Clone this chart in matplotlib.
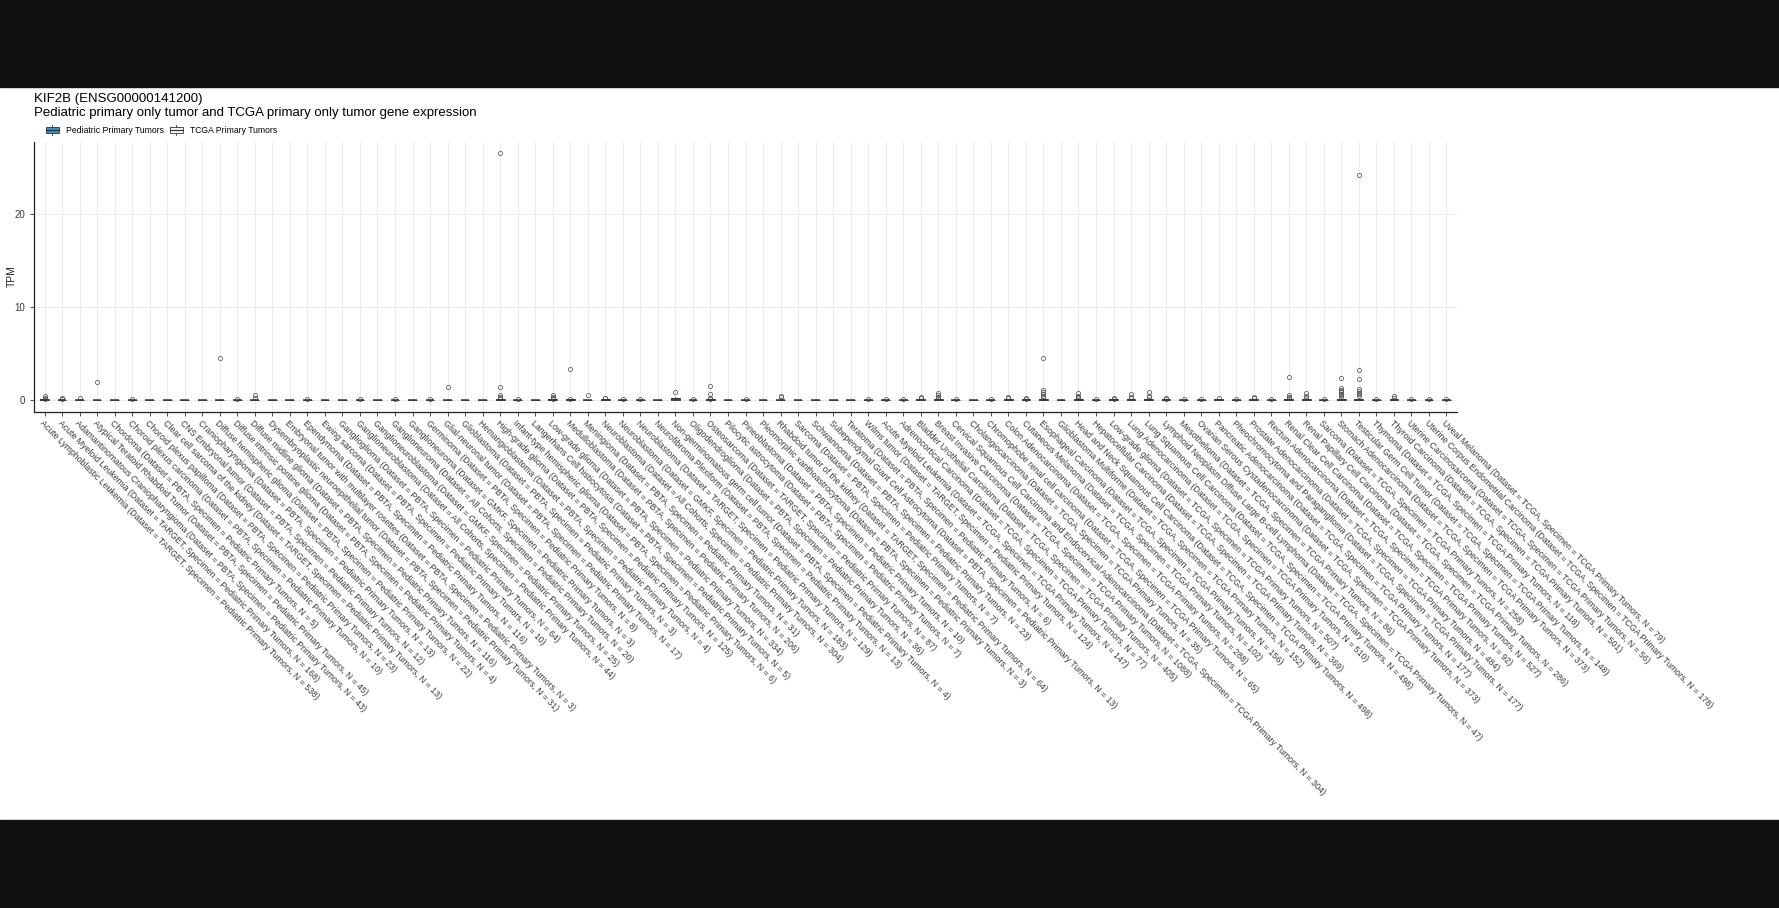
import matplotlib
matplotlib.use("Agg")
import matplotlib.pyplot as plt
from matplotlib.patches import Rectangle, Patch
from matplotlib.lines import Line2D
from matplotlib.legend_handler import HandlerBase

plt.rcParams['font.family'] = ['Liberation Sans', 'DejaVu Sans']

# Pediatric cancer groups (alphabetical), dataset and sample counts
ped_groups = ["Acute Lymphoblastic Leukemia", "Acute Myeloid Leukemia", "Adamantinomatous Craniopharyngioma",
              "Atypical Teratoid Rhabdoid Tumor", "Chordoma", "Choroid plexus carcinoma", "Choroid plexus papilloma",
              "Clear cell sarcoma of the kidney", "CNS Embryonal tumor", "Craniopharyngioma",
              "Diffuse hemispheric glioma", "Diffuse intrinsic pontine glioma", "Diffuse midline glioma",
              "Dysembryoplastic neuroepithelial tumor", "Embryonal tumor with multilayer rosettes", "Ependymoma",
              "Ewing sarcoma", "Ganglioglioma", "Ganglioneuroblastoma", "Ganglioneuroblastoma", "Ganglioneuroma",
              "Ganglioneuroma", "Germinoma", "Glial-neuronal tumor", "Glioblastoma", "Hemangioblastoma",
              "High-grade glioma", "Infant-type hemispheric glioma", "Langerhans Cell histiocytosis",
              "Low-grade glioma", "Medulloblastoma", "Meningioma", "Neuroblastoma", "Neuroblastoma", "Neuroblastoma",
              "Neurofibroma Plexiform", "Non-germinomatous germ cell tumor", "Oligodendroglioma", "Osteosarcoma",
              "Pilocytic astrocytoma", "Pineoblastoma", "Pleomorphic xanthoastrocytoma",
              "Rhabdoid tumor of the kidney", "Sarcoma", "Schwannoma", "Subependymal Giant Cell Astrocytoma",
              "Teratoma", "Wilms tumor"]
ped_datasets = ["TARGET", "TARGET", "PBTA", "PBTA", "PBTA", "PBTA", "PBTA", "TARGET", "PBTA", "PBTA",
                "PBTA", "PBTA", "PBTA", "PBTA", "PBTA", "PBTA", "PBTA", "PBTA", "All Cohorts", "GMKF",
                "All Cohorts", "GMKF", "PBTA", "PBTA", "PBTA", "PBTA", "PBTA", "PBTA", "PBTA", "PBTA",
                "PBTA", "PBTA", "All Cohorts", "GMKF", "TARGET", "PBTA", "PBTA", "PBTA", "TARGET", "PBTA",
                "PBTA", "PBTA", "TARGET", "PBTA", "PBTA", "PBTA", "PBTA", "TARGET"]
ped_n = [538, 168, 43, 45, 5, 10, 23, 13, 12, 13, 22, 4, 116, 31, 3, 116, 10, 64, 44, 25,
         20, 3, 8, 17, 3, 4, 125, 6, 5, 334, 206, 31, 304, 183, 129, 13, 4, 36, 87, 7,
         10, 3, 64, 7, 23, 13, 6, 124]

tcga_groups = ["Acute Myeloid Leukemia", "Adrenocortical Carcinoma", "Bladder Urothelial Carcinoma",
               "Breast Invasive Carcinoma", "Cervical Squamous Cell Carcinoma and Endocervical Adenocarcinoma",
               "Cholangiocarcinoma", "Chromophobe renal cell carcinoma", "Colon Adenocarcinoma",
               "Cutaneous Melanoma", "Esophageal Carcinoma", "Glioblastoma Multiforme",
               "Head and Neck Squamous Cell Carcinoma", "Hepatocellular Carcinoma", "Low-grade glioma",
               "Lung Adenocarcinoma", "Lung Squamous Cell Carcinoma",
               "Lymphoid Neoplasm Diffuse Large B-cell Lymphoma", "Mesothelioma",
               "Ovarian Serous Cystadenocarcinoma", "Pancreatic Adenocarcinoma",
               "Pheochromocytoma and Paraganglioma", "Prostate Adenocarcinoma", "Rectum Adenocarcinoma",
               "Renal Clear Cell Carcinoma", "Renal Papillary Cell Carcinoma", "Sarcoma",
               "Stomach Adenocarcinoma", "Testicular Germ Cell Tumor", "Thymoma", "Thyroid Carcinoma",
               "Uterine Carcinosarcoma", "Uterine Corpus Endometrial Carcinoma", "Uveal Melanoma"]
tcga_n = [147, 77, 405, 1088, 304, 35, 65, 288, 102, 156, 152, 498, 369, 507, 510, 498, 47, 86,
          373, 177, 177, 484, 92, 527, 286, 258, 373, 148, 118, 501, 56, 178, 79]

# TPM box statistics (lower quartile and lower whisker are 0 everywhere)
ped_median = [0.02, 0.01, 0, 0, 0, 0, 0, 0, 0, 0, 0, 0, 0.01, 0, 0, 0, 0, 0, 0, 0,
              0, 0, 0, 0, 0, 0, 0.01, 0, 0, 0.01, 0.01, 0, 0.02, 0.01, 0.01, 0, 0.1, 0, 0.01, 0,
              0, 0, 0.01, 0, 0, 0, 0, 0.01]
ped_q3 = [0.06, 0.04, 0.03, 0.02, 0, 0.02, 0, 0, 0, 0, 0.02, 0.02, 0.04, 0, 0, 0.02, 0, 0, 0.02, 0,
          0.02, 0, 0.02, 0.03, 0, 0, 0.05, 0.02, 0, 0.05, 0.05, 0.02, 0.06, 0.04, 0.04, 0, 0.22, 0.02, 0.05, 0,
          0.02, 0, 0.04, 0, 0, 0, 0, 0.03]
ped_whishi = [0.12, 0.08, 0.06, 0.04, 0, 0.04, 0, 0, 0, 0, 0.04, 0.04, 0.1, 0, 0, 0.04, 0, 0, 0.04, 0,
              0.04, 0, 0.04, 0.06, 0, 0, 0.12, 0.04, 0, 0.12, 0.1, 0.04, 0.14, 0.08, 0.1, 0, 0.26, 0.05, 0.12, 0,
              0.04, 0, 0.1, 0, 0, 0, 0, 0.06]
ped_outliers = [[0.15, 0.25, 0.47], [0.12, 0.2], [0.18], [1.94], [], [0.08], [], [], [], [],
                [4.45], [0.1], [0.2, 0.5], [], [], [0.1], [], [], [0.1], [],
                [0.1], [], [0.1], [1.35], [], [], [0.2, 0.3, 0.5, 1.43, 26.5], [0.1], [], [0.15, 0.25, 0.35, 0.5],
                [0.15, 3.35], [0.57], [0.18, 0.25], [0.12], [0.15], [], [0.9], [0.08], [0.15, 0.25, 0.68, 1.5], [],
                [0.08], [], [0.3, 0.45], [], [], [], [], [0.12]]

tcga_median = [0.01, 0, 0.01, 0.02, 0, 0, 0, 0.01, 0.01, 0.02, 0, 0.02, 0, 0.01, 0.01, 0.02, 0.01, 0,
               0, 0.01, 0, 0.01, 0, 0.02, 0.01, 0, 0.03, 0.03, 0, 0.01, 0, 0, 0]
tcga_q3 = [0.04, 0.02, 0.05, 0.08, 0.03, 0, 0.02, 0.05, 0.05, 0.08, 0.02, 0.07, 0.02, 0.05, 0.06, 0.08,
           0.05, 0.02, 0.02, 0.05, 0.02, 0.05, 0.02, 0.08, 0.05, 0.03, 0.1, 0.1, 0.02, 0.05, 0.02, 0.02, 0.02]
tcga_whishi = [0.1, 0.05, 0.12, 0.18, 0.06, 0, 0.05, 0.12, 0.12, 0.2, 0.05, 0.17, 0.05, 0.12, 0.14, 0.18,
               0.12, 0.05, 0.05, 0.12, 0.05, 0.12, 0.05, 0.2, 0.12, 0.07, 0.25, 0.25, 0.05, 0.12, 0.05, 0.05, 0.05]
tcga_outliers = [[0.15], [0.1], [0.2, 0.3], [0.25, 0.35, 0.5, 0.75], [0.1], [], [0.1], [0.2, 0.3],
                 [0.15, 0.25], [0.3, 0.45, 0.6, 0.86, 1.07, 4.55], [], [0.2, 0.3, 0.45, 0.75], [0.1],
                 [0.15, 0.25], [0.2, 0.3, 0.6], [0.3, 0.43, 0.9], [0.15, 0.25], [0.1], [0.1], [0.2], [0.1],
                 [0.2, 0.3], [0.1], [0.25, 0.35, 0.5, 2.47], [0.25, 0.4, 0.72], [0.15],
                 [0.35, 0.5, 0.65, 0.8, 0.95, 1.1, 1.3, 2.3], [0.4, 0.6, 0.72, 0.95, 1.15, 2.22, 3.26, 24.2],
                 [0.1], [0.25, 0.4], [0.1], [0.1], [0.1]]

ped_label = "Pediatric Primary Tumors"
tcga_label = "TCGA Primary Tumors"
ped_color = "#3d8fc6"
edge = "#333333"

labels = ["{0} (Dataset = {1}, Specimen = {2}, N = {3})".format(g, d, ped_label, n)
          for g, d, n in zip(ped_groups, ped_datasets, ped_n)]
labels += ["{0} (Dataset = TCGA, Specimen = {1}, N = {2})".format(g, tcga_label, n)
           for g, n in zip(tcga_groups, tcga_n)]

stats = []
for med, q3, hi, fl in zip(ped_median + tcga_median, ped_q3 + tcga_q3,
                           ped_whishi + tcga_whishi, ped_outliers + tcga_outliers):
    stats.append({"med": med, "q1": 0.0, "q3": q3, "whislo": 0.0, "whishi": hi, "fliers": fl})
colors = [ped_color] * len(ped_groups) + ["white"] * len(tcga_groups)

W, H = 1779, 908
fig = plt.figure(figsize=(W / 100, H / 100), dpi=100)
fig.patch.set_facecolor("white")
# letterbox bands
fig.patches.append(Rectangle((0, 1 - 87 / H), 1, 87 / H, transform=fig.transFigure, color="#111111", zorder=-5))
fig.patches.append(Rectangle((0, 0), 1, 88 / H, transform=fig.transFigure, color="#111111", zorder=-5))

ax = fig.add_axes([34 / W, 1 - 412 / H, 1423 / W, 270 / H])
pos = list(range(len(labels)))
res = ax.bxp(stats, positions=pos, widths=0.5, patch_artist=True, showcaps=False,
             boxprops=dict(edgecolor=edge, linewidth=0.6),
             whiskerprops=dict(color=edge, linewidth=0.6),
             medianprops=dict(color=edge, linewidth=1.1),
             flierprops=dict(marker="o", markersize=3.0, markerfacecolor="none",
                             markeredgecolor="#555555", markeredgewidth=0.55))
for b, c in zip(res["boxes"], colors):
    b.set_facecolor(c)

ax.set_xlim(-0.6, len(labels) - 0.4)
ax.set_ylim(-1.3, 27.7)
ax.set_yticks([0, 10, 20])
ax.set_xticks(pos)
ax.set_xticklabels(labels, rotation=-45, ha="left", va="top", rotation_mode="anchor",
                   fontsize=6.35, color="#3a3a3a")
ax.tick_params(axis="y", labelsize=7, labelcolor="#3a3a3a", length=3, width=0.6, color="#333333")
ax.tick_params(axis="x", length=3, width=0.6, color="#333333", pad=2)
ax.grid(True, color="#ebebeb", linewidth=0.7)
ax.set_axisbelow(True)
for s in ["top", "right"]:
    ax.spines[s].set_visible(False)
for s in ["left", "bottom"]:
    ax.spines[s].set_linewidth(0.9)
    ax.spines[s].set_color("#222222")

fig.text(7 / W, 1 - 276 / H, "TPM", rotation=90, va="center", ha="left", fontsize=7.5, color="#222222")
fig.text(34 / W, 1 - 99 / H, "KIF2B (ENSG00000141200)", va="center", ha="left", fontsize=9.5)
fig.text(34 / W, 1 - 113 / H, "Pediatric primary only tumor and TCGA primary only tumor gene expression",
         va="center", ha="left", fontsize=9.5)


class BoxKey(HandlerBase):
    def create_artists(self, legend, orig_handle, xdescent, ydescent, width, height, fontsize, trans):
        x0, y0 = -xdescent, -ydescent
        fc = orig_handle.get_facecolor()
        box = Rectangle((x0 + 0.1 * width, y0 + 0.2 * height), 0.8 * width, 0.6 * height,
                        facecolor=fc, edgecolor=edge, linewidth=0.6, transform=trans)
        med = Line2D([x0 + 0.1 * width, x0 + 0.9 * width], [y0 + 0.5 * height] * 2,
                     color=edge, linewidth=0.9, transform=trans)
        lo = Line2D([x0 + 0.5 * width] * 2, [y0 - 0.05 * height, y0 + 0.2 * height],
                    color=edge, linewidth=0.6, transform=trans)
        hi = Line2D([x0 + 0.5 * width] * 2, [y0 + 0.8 * height, y0 + 1.05 * height],
                    color=edge, linewidth=0.6, transform=trans)
        return [box, med, lo, hi]


handles = [Patch(facecolor=ped_color), Patch(facecolor="white")]
fig.legend(handles, [ped_label, tcga_label], loc="center left", bbox_to_anchor=(44 / W, 1 - 130 / H),
           ncol=2, frameon=False, fontsize=6.2, handler_map={Patch: BoxKey()},
           handlelength=1.9, handleheight=1.4, handletextpad=0.6, columnspacing=0.55, borderaxespad=0,
           borderpad=0)

fig.savefig("out.png", dpi=100, facecolor=fig.get_facecolor())
